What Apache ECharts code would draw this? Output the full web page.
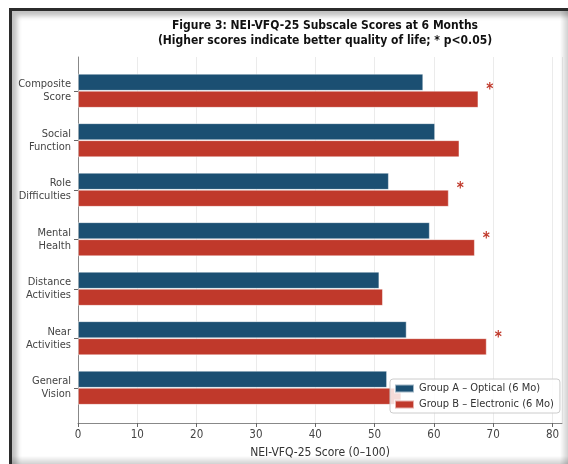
<!DOCTYPE html>
<html>
<head>
<meta charset="utf-8">
<script src="https://cdn.jsdelivr.net/npm/echarts@6/dist/echarts.min.js"></script>
<style>
  html, body { margin: 0; padding: 0; background: #fff; overflow: hidden; }
  #chart { width: 568px; height: 464px; position: absolute; left: 0; top: 0; }
  #frame {
    position: absolute; left: 9px; top: 8px; width: 600px; height: 500px;
    border-top: 3px solid #2b2b2b; border-left: 3px solid #2b2b2b;
    box-shadow: inset 5px 5px 5px rgba(0,0,0,0.25);
    pointer-events: none;
  }
  #edgeR {
    position: absolute; left: 560px; top: 11px; width: 8px; height: 453px;
    background: linear-gradient(to right, rgba(0,0,0,0), rgba(0,0,0,0.18));
    pointer-events: none;
  }
  #edgeB {
    position: absolute; left: 12px; top: 456px; width: 556px; height: 8px;
    background: linear-gradient(to bottom, rgba(0,0,0,0), rgba(0,0,0,0.18));
    pointer-events: none;
  }
</style>
</head>
<body>
<div id="chart"></div>
<div id="frame"></div>
<div id="edgeR"></div>
<div id="edgeB"></div>
<script>
// subscales, top to bottom
const categories = [
  "Composite\nScore",
  "Social\nFunction",
  "Role\nDifficulties",
  "Mental\nHealth",
  "Distance\nActivities",
  "Near\nActivities",
  "General\nVision",
];
const groupA = [58.2, 60.2, 52.4, 59.3, 50.8, 55.4, 52.1];
const groupB = [67.5, 64.3, 62.5, 66.9, 51.4, 68.9, 54.5];
const significant = [true, false, true, true, false, true, false];

const nameA = "Group A – Optical (6 Mo)";
const nameB = "Group B – Electronic (6 Mo)";
const blue = "#1b4f72";
const red = "#c0392b";
const font = "'DejaVu Sans Condensed', 'DejaVu Sans'";

const chart = echarts.init(document.getElementById("chart"));

chart.setOption({
  animation: false,
  textStyle: { fontFamily: font },
  title: {
    text: "Figure 3: NEI-VFQ-25 Subscale Scores at 6 Months\n(Higher scores indicate better quality of life; * p<0.05)",
    left: 320,
    top: 13,
    textAlign: "center",
    textStyle: { fontFamily: font, fontSize: 12, fontWeight: "bold", color: "#111", lineHeight: 15 },
  },
  legend: {
    data: [nameA, nameB],
    orient: "vertical",
    left: 390,
    top: 379,
    padding: [4, 6, 3, 4],
    itemGap: 5,
    itemWidth: 19,
    itemHeight: 8,
    icon: "rect",
    backgroundColor: "rgba(255,255,255,0.82)",
    borderColor: "#ccc",
    borderWidth: 1,
    borderRadius: 3,
    textStyle: { fontFamily: font, fontSize: 11, color: "#333" },
  },
  grid: [
    { left: 78, right: 6, top: 66, height: 346.5 },
    { left: 78, right: 6, top: 57, bottom: 41 },
  ],
  xAxis: [
    { gridIndex: 0, type: "value", min: 0, max: 81.6, show: false },
    {
      gridIndex: 1,
      type: "value",
      min: 0,
      max: 81.6,
      interval: 10,
      name: "NEI-VFQ-25 Score (0–100)",
      nameLocation: "middle",
      nameGap: 24,
      nameTextStyle: { fontFamily: font, fontSize: 12, color: "#333" },
      axisLine: { show: true, lineStyle: { color: "#888", width: 1 } },
      axisTick: { show: true, length: 4, lineStyle: { color: "#666" } },
      axisLabel: { fontFamily: font, fontSize: 11.5, color: "#444", margin: 6, showMaxLabel: false },
      splitLine: { show: true, lineStyle: { color: "#ebebeb", width: 1 } },
    },
  ],
  yAxis: [
    {
      gridIndex: 0,
      type: "category",
      inverse: true,
      data: categories,
      axisLine: { show: false },
      axisTick: { show: true, alignWithLabel: true, length: 4, lineStyle: { color: "#666" } },
      axisLabel: { fontFamily: font, fontSize: 11, color: "#444", lineHeight: 13, margin: 7, align: "right" },
      splitLine: { show: false },
    },
    {
      gridIndex: 1,
      type: "value",
      min: 0,
      max: 1,
      axisLine: { show: true, lineStyle: { color: "#888", width: 1 } },
      axisTick: { show: false },
      axisLabel: { show: false },
      splitLine: { show: false },
    },
  ],
  series: [
    {
      name: nameA,
      type: "bar",
      xAxisIndex: 0,
      yAxisIndex: 0,
      data: groupA,
      barWidth: 17,
      barGap: "0%",
      itemStyle: { color: blue, borderColor: "rgba(255,255,255,0.6)", borderWidth: 0.8 },
    },
    {
      name: nameB,
      type: "bar",
      xAxisIndex: 0,
      yAxisIndex: 0,
      data: groupB,
      barWidth: 17,
      barGap: "0%",
      itemStyle: { color: red, borderColor: "rgba(255,255,255,0.6)", borderWidth: 0.8 },
      label: {
        show: true,
        position: "right",
        distance: 8,
        offset: [0, -9],
        formatter: (p) => (significant[p.dataIndex] ? "*" : ""),
        color: red,
        fontFamily: font,
        fontSize: 15,
        fontWeight: "bold",
      },
    },
  ],
});
</script>
</body>
</html>
